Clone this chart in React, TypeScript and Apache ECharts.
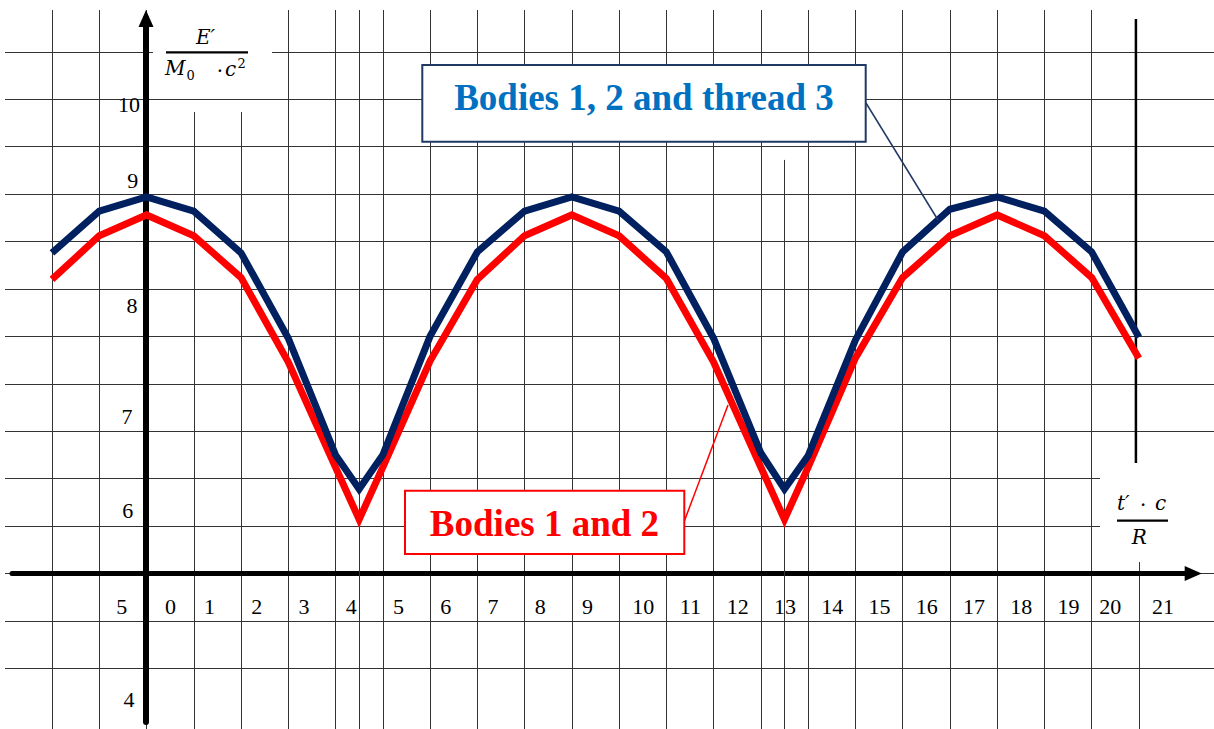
import React, { useEffect, useRef } from "react";
import * as echarts from "echarts";

// ---- data -------------------------------------------------------------
// t'·c/R measured in grid cells (troughs fall on half cells)
const tValues = [-2, -1, 0, 1, 2, 3, 4, 4.5, 5, 6, 7, 8, 9, 10, 11, 12, 13, 13.5, 14, 15, 16, 17, 18, 19, 20, 21];
// E'/(M0·c²) – bodies 1, 2 and thread 3 (navy)
const thread3 = [8.38, 8.82, 8.97, 8.82, 8.38, 7.48, 6.25, 5.89, 6.25, 7.5, 8.39, 8.82, 8.97, 8.82, 8.39, 7.48, 6.27, 5.89, 6.24, 7.46, 8.39, 8.84, 8.97, 8.82, 8.39, 7.49];
// E'/(M0·c²) – bodies 1 and 2 (red)
const bodies12 = [8.1, 8.56, 8.78, 8.56, 8.12, 7.23, 6.12, 5.57, 6.12, 7.24, 8.1, 8.56, 8.78, 8.56, 8.11, 7.23, 6.12, 5.57, 6.12, 7.27, 8.12, 8.56, 8.78, 8.56, 8.12, 7.27];
const yTickLabels = [4, 5, 6, 7, 8, 9, 10];
const xTickLabels = [0, 1, 2, 3, 4, 5, 6, 7, 8, 9, 10, 11, 12, 13, 14, 15, 16, 17, 18, 19, 20, 21];
const extraGuides = [4.5, 13.5];
const seriesNames = ["Bodies 1 and 2", "Bodies 1, 2 and thread 3"];

// ---- layout -----------------------------------------------------------
const W = 1214;
const H = 764;
const Y_TOP = 10.9404;
const SERIF = '"Liberation Serif", "Times New Roman", serif';
const MATH = '"DejaVu Serif", serif';
const GRID_COLOR = "#333";

// hand-placed label nudges (px) relative to their tick
const yLabelNudge: Record<number, [number, number]> = {
  10: [-6.5, 4.8],
  9: [-8.2, -13.4],
  8: [-8.9, 16.8],
  7: [-14, 32.9],
  6: [-13.3, 31.4],
  5: [-19.2, 33.2],
  4: [-12.1, 31.6],
};
const xLabelDx = (n: number) => (n >= 1 && n <= 9 ? -8 : n === 20 ? -5 : 0.5);

function buildOption(): any {
  return {
    animation: false,
    backgroundColor: "#ffffff",
    grid: [
      { left: 4.72, width: 1180.98, top: 10, height: 753.22 },
      { left: 5, right: 0, top: 10, height: 705.79 },
      { left: 12, width: 1181.2, top: 0, height: 573.5 },
      { left: 146, width: 10, top: 18.5, height: 703.5 },
    ],
    xAxis: [
      {
        gridIndex: 0, type: "value", min: -3, max: 21.99, interval: 1, z: 0,
        axisLine: { show: false }, axisTick: { show: false }, axisLabel: { show: false },
        splitLine: { show: true, showMinLine: false, showMaxLine: false, lineStyle: { color: GRID_COLOR, width: 1 } },
      },
      { gridIndex: 1, type: "value", min: 0, max: 1, show: false },
      {
        gridIndex: 2, type: "value", min: 0, max: 1, z: 4,
        axisLine: { show: true, onZero: false, symbol: ["none", "triangle"], symbolSize: [15, 17], lineStyle: { color: "#000", width: 5 } },
        axisTick: { show: false }, axisLabel: { show: false }, splitLine: { show: false },
      },
      { gridIndex: 3, type: "value", min: 0, max: 1, show: false },
    ],
    yAxis: [
      { gridIndex: 0, type: "value", min: 3, max: Y_TOP, show: false },
      {
        gridIndex: 1, type: "value", min: 3.5, max: Y_TOP, interval: 0.5, z: 2,
        axisLine: { show: false }, axisTick: { show: false }, axisLabel: { show: false },
        splitLine: { show: true, showMinLine: false, showMaxLine: false, lineStyle: { color: GRID_COLOR, width: 1 } },
      },
      { gridIndex: 2, type: "value", min: 0, max: 1, show: false },
      {
        gridIndex: 3, type: "value", min: 0, max: 1, z: 4,
        axisLine: { show: true, onZero: false, symbol: ["none", "triangle"], symbolSize: [15, 17], lineStyle: { color: "#000", width: 6 } },
        axisTick: { show: false }, axisLabel: { show: false }, splitLine: { show: false },
      },
    ],
    series: [
      {
        type: "line", name: "guides", xAxisIndex: 0, yAxisIndex: 0, data: [], z: 1, silent: true,
        markLine: {
          silent: true, symbol: ["none", "none"], label: { show: false },
          lineStyle: { color: GRID_COLOR, width: 1, type: "solid" },
          data: [
            { xAxis: extraGuides[0] },
            [{ coord: [extraGuides[1], 9.36] }, { coord: [extraGuides[1], 3] }],
          ],
        },
      },
      {
        type: "line", name: seriesNames[0], xAxisIndex: 0, yAxisIndex: 0, z: 5, silent: true,
        data: tValues.map((t, i) => [t, bodies12[i]]),
        symbol: "none", showSymbol: false,
        lineStyle: { color: "#ff0000", width: 7, join: "miter" },
      },
      {
        type: "line", name: seriesNames[1], xAxisIndex: 0, yAxisIndex: 0, z: 6, silent: true,
        data: tValues.map((t, i) => [t, thread3[i]]),
        symbol: "none", showSymbol: false,
        lineStyle: { color: "#002060", width: 7, join: "miter" },
      },
    ],
  };
}

function txt(text: string, x: number, y: number, o: any = {}): any {
  return {
    type: "text", z: o.z ?? 12, silent: true,
    style: {
      text, x, y,
      fill: o.fill ?? "#000",
      fontSize: o.size ?? 22,
      fontFamily: o.family ?? SERIF,
      fontStyle: o.italic ? "italic" : "normal",
      fontWeight: o.bold ? "bold" : "normal",
      align: o.align ?? "center",
      verticalAlign: "middle",
    },
  };
}

function line(x1: number, y1: number, x2: number, y2: number, stroke: string, w: number, z = 10): any {
  return { type: "line", z, silent: true, shape: { x1, y1, x2, y2 }, style: { stroke, lineWidth: w } };
}

function rect(x: number, y: number, width: number, height: number, z: number, stroke?: string, w = 0): any {
  return {
    type: "rect", z, silent: true, shape: { x, y, width, height },
    style: { fill: "#ffffff", stroke: stroke ?? "none", lineWidth: w },
  };
}

function buildGraphic(chart: echarts.ECharts): any[] {
  const px = (x: number, y: number) => chart.convertToPixel({ gridIndex: 0 } as any, [x, y]) as number[];
  const g: any[] = [];

  // erase grid pieces that are absent in the drawing
  const [x21] = px(21, 5);
  g.push(rect(188, 6, 58, 106, 1));
  g.push(rect(x21 - 3, 6, 6, 458, 1));
  g.push(rect(153, 49, 119, 6, 3));
  g.push(rect(1100, 463, 114, 99, 3));

  // thick vertical marker at the right end
  g.push(line(x21 - 3, 19, x21 - 3, 463, "#000", 2.5, 4));

  // y tick labels
  yTickLabels.forEach((v) => {
    const [x, y] = px(0, v);
    const [dx, dy] = yLabelNudge[v];
    g.push(txt(String(v), x + dx, y + dy, { align: "right" }));
  });
  // x tick labels (centred in grid cells)
  xTickLabels.forEach((n) => {
    const [x, y] = px(n + 0.5, 5);
    g.push(txt(String(n), x + xLabelDx(n), y + 33.2));
  });

  // y-axis title  E' / (M0 · c²)
  g.push(txt("E\u2032", 196, 36.6, { family: MATH, italic: true, size: 20, align: "left" }));
  g.push(line(166, 52.3, 248, 52.3, "#000", 2.3, 4));
  g.push(txt("M", 165, 68.4, { family: MATH, italic: true, size: 20, align: "left" }));
  g.push(txt("0", 186.5, 75.5, { family: MATH, size: 13, align: "left" }));
  g.push(txt("\u00b7", 220, 71, { family: MATH, size: 20 }));
  g.push(txt("c", 225, 69.1, { family: MATH, italic: true, size: 20, align: "left" }));
  g.push(txt("2", 237.5, 63.5, { family: MATH, size: 13, align: "left" }));

  // x-axis title  t'·c / R
  g.push(txt("t\u2032", 1117, 503.1, { family: MATH, italic: true, size: 20, align: "left" }));
  g.push(txt("\u00b7", 1143.3, 504.5, { family: MATH, size: 20 }));
  g.push(txt("c", 1155, 503.1, { family: MATH, italic: true, size: 20, align: "left" }));
  g.push(line(1117, 520.7, 1168, 520.7, "#000", 2.3, 4));
  g.push(txt("R", 1139.3, 537.1, { family: MATH, italic: true, size: 20 }));

  // callout: thread 3
  g.push(line(866, 103, 938, 220, "#1f3864", 1.5, 9));
  g.push(rect(422.3, 65, 443.4, 76.7, 10, "#1f3864", 2));
  g.push(txt(seriesNames[1], 644, 97.4, { size: 37, bold: true, fill: "#0070c0" }));

  // callout: bodies 1 and 2
  g.push(line(684, 522, 728, 405, "#ff0000", 1.5, 9));
  g.push(rect(405, 490.7, 279.3, 63.3, 10, "#ff0000", 2));
  g.push(txt(seriesNames[0], 544.5, 523.5, { size: 37, bold: true, fill: "#ff0000" }));

  return g;
}

export default function App() {
  const ref = useRef<HTMLDivElement>(null);
  useEffect(() => {
    if (!ref.current) return;
    const chart = echarts.init(ref.current, null, { renderer: "svg" });
    chart.setOption(buildOption());
    chart.setOption({ graphic: buildGraphic(chart) });
    return () => chart.dispose();
  }, []);
  return (
    <div
      ref={ref}
      style={{ position: "fixed", left: 0, top: 0, width: W, height: H, background: "#fff" }}
    />
  );
}
